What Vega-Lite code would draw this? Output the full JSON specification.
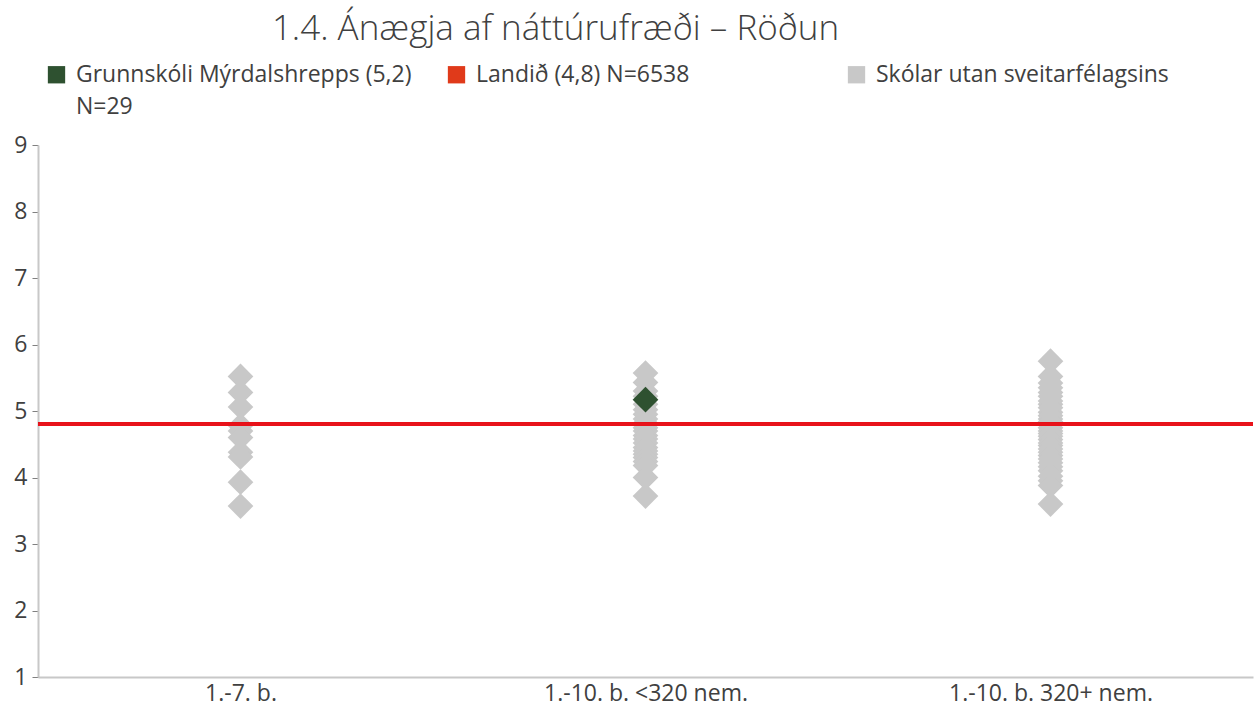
{
  "$schema": "https://vega.github.io/schema/vega-lite/v6.json",
  "width": 1215,
  "height": 532,
  "autosize": {"type": "none"},
  "padding": {"left": 38, "top": 145, "right": 5, "bottom": 32},
  "background": "white",
  "config": {
    "view": {"stroke": null},
    "font": "Open Sans",
    "axis": {"labelFont": "Open Sans", "labelFontSize": 23, "labelColor": "#404040", "grid": false, "domainColor": "#C8C8C8", "domainWidth": 2, "tickColor": "#808080", "labelLimit": 400},
    "legend": {"labelFont": "Open Sans", "labelFontSize": 23, "labelColor": "#404040"}
  },
  "title": {
    "text": "1.4. Ánægja af náttúrufræði – Röðun",
    "fontSize": 35,
    "font": "Open Sans",
    "fontWeight": 300,
    "color": "#404040",
    "anchor": "middle",
    "dx": -90,
    "offset": 16
  },
  "data": {
    "values": [
      {"hopur": "1.-7. b.", "gildi": 5.52, "rod": "Skólar utan sveitarfélagsins"},
      {"hopur": "1.-7. b.", "gildi": 5.28, "rod": "Skólar utan sveitarfélagsins"},
      {"hopur": "1.-7. b.", "gildi": 5.06, "rod": "Skólar utan sveitarfélagsins"},
      {"hopur": "1.-7. b.", "gildi": 4.78, "rod": "Skólar utan sveitarfélagsins"},
      {"hopur": "1.-7. b.", "gildi": 4.70, "rod": "Skólar utan sveitarfélagsins"},
      {"hopur": "1.-7. b.", "gildi": 4.60, "rod": "Skólar utan sveitarfélagsins"},
      {"hopur": "1.-7. b.", "gildi": 4.38, "rod": "Skólar utan sveitarfélagsins"},
      {"hopur": "1.-7. b.", "gildi": 4.31, "rod": "Skólar utan sveitarfélagsins"},
      {"hopur": "1.-7. b.", "gildi": 3.93, "rod": "Skólar utan sveitarfélagsins"},
      {"hopur": "1.-7. b.", "gildi": 3.57, "rod": "Skólar utan sveitarfélagsins"},
      {"hopur": "1.-10. b. <320 nem.", "gildi": 5.57, "rod": "Skólar utan sveitarfélagsins"},
      {"hopur": "1.-10. b. <320 nem.", "gildi": 5.43, "rod": "Skólar utan sveitarfélagsins"},
      {"hopur": "1.-10. b. <320 nem.", "gildi": 5.30, "rod": "Skólar utan sveitarfélagsins"},
      {"hopur": "1.-10. b. <320 nem.", "gildi": 5.22, "rod": "Skólar utan sveitarfélagsins"},
      {"hopur": "1.-10. b. <320 nem.", "gildi": 5.10, "rod": "Skólar utan sveitarfélagsins"},
      {"hopur": "1.-10. b. <320 nem.", "gildi": 5.02, "rod": "Skólar utan sveitarfélagsins"},
      {"hopur": "1.-10. b. <320 nem.", "gildi": 4.95, "rod": "Skólar utan sveitarfélagsins"},
      {"hopur": "1.-10. b. <320 nem.", "gildi": 4.88, "rod": "Skólar utan sveitarfélagsins"},
      {"hopur": "1.-10. b. <320 nem.", "gildi": 4.82, "rod": "Skólar utan sveitarfélagsins"},
      {"hopur": "1.-10. b. <320 nem.", "gildi": 4.75, "rod": "Skólar utan sveitarfélagsins"},
      {"hopur": "1.-10. b. <320 nem.", "gildi": 4.70, "rod": "Skólar utan sveitarfélagsins"},
      {"hopur": "1.-10. b. <320 nem.", "gildi": 4.63, "rod": "Skólar utan sveitarfélagsins"},
      {"hopur": "1.-10. b. <320 nem.", "gildi": 4.58, "rod": "Skólar utan sveitarfélagsins"},
      {"hopur": "1.-10. b. <320 nem.", "gildi": 4.52, "rod": "Skólar utan sveitarfélagsins"},
      {"hopur": "1.-10. b. <320 nem.", "gildi": 4.45, "rod": "Skólar utan sveitarfélagsins"},
      {"hopur": "1.-10. b. <320 nem.", "gildi": 4.40, "rod": "Skólar utan sveitarfélagsins"},
      {"hopur": "1.-10. b. <320 nem.", "gildi": 4.35, "rod": "Skólar utan sveitarfélagsins"},
      {"hopur": "1.-10. b. <320 nem.", "gildi": 4.30, "rod": "Skólar utan sveitarfélagsins"},
      {"hopur": "1.-10. b. <320 nem.", "gildi": 4.24, "rod": "Skólar utan sveitarfélagsins"},
      {"hopur": "1.-10. b. <320 nem.", "gildi": 4.18, "rod": "Skólar utan sveitarfélagsins"},
      {"hopur": "1.-10. b. <320 nem.", "gildi": 4.00, "rod": "Skólar utan sveitarfélagsins"},
      {"hopur": "1.-10. b. <320 nem.", "gildi": 3.72, "rod": "Skólar utan sveitarfélagsins"},
      {"hopur": "1.-10. b. 320+ nem.", "gildi": 5.75, "rod": "Skólar utan sveitarfélagsins"},
      {"hopur": "1.-10. b. 320+ nem.", "gildi": 5.52, "rod": "Skólar utan sveitarfélagsins"},
      {"hopur": "1.-10. b. 320+ nem.", "gildi": 5.42, "rod": "Skólar utan sveitarfélagsins"},
      {"hopur": "1.-10. b. 320+ nem.", "gildi": 5.35, "rod": "Skólar utan sveitarfélagsins"},
      {"hopur": "1.-10. b. 320+ nem.", "gildi": 5.28, "rod": "Skólar utan sveitarfélagsins"},
      {"hopur": "1.-10. b. 320+ nem.", "gildi": 5.22, "rod": "Skólar utan sveitarfélagsins"},
      {"hopur": "1.-10. b. 320+ nem.", "gildi": 5.15, "rod": "Skólar utan sveitarfélagsins"},
      {"hopur": "1.-10. b. 320+ nem.", "gildi": 5.10, "rod": "Skólar utan sveitarfélagsins"},
      {"hopur": "1.-10. b. 320+ nem.", "gildi": 5.05, "rod": "Skólar utan sveitarfélagsins"},
      {"hopur": "1.-10. b. 320+ nem.", "gildi": 4.98, "rod": "Skólar utan sveitarfélagsins"},
      {"hopur": "1.-10. b. 320+ nem.", "gildi": 4.93, "rod": "Skólar utan sveitarfélagsins"},
      {"hopur": "1.-10. b. 320+ nem.", "gildi": 4.88, "rod": "Skólar utan sveitarfélagsins"},
      {"hopur": "1.-10. b. 320+ nem.", "gildi": 4.84, "rod": "Skólar utan sveitarfélagsins"},
      {"hopur": "1.-10. b. 320+ nem.", "gildi": 4.80, "rod": "Skólar utan sveitarfélagsins"},
      {"hopur": "1.-10. b. 320+ nem.", "gildi": 4.75, "rod": "Skólar utan sveitarfélagsins"},
      {"hopur": "1.-10. b. 320+ nem.", "gildi": 4.70, "rod": "Skólar utan sveitarfélagsins"},
      {"hopur": "1.-10. b. 320+ nem.", "gildi": 4.66, "rod": "Skólar utan sveitarfélagsins"},
      {"hopur": "1.-10. b. 320+ nem.", "gildi": 4.62, "rod": "Skólar utan sveitarfélagsins"},
      {"hopur": "1.-10. b. 320+ nem.", "gildi": 4.57, "rod": "Skólar utan sveitarfélagsins"},
      {"hopur": "1.-10. b. 320+ nem.", "gildi": 4.52, "rod": "Skólar utan sveitarfélagsins"},
      {"hopur": "1.-10. b. 320+ nem.", "gildi": 4.48, "rod": "Skólar utan sveitarfélagsins"},
      {"hopur": "1.-10. b. 320+ nem.", "gildi": 4.43, "rod": "Skólar utan sveitarfélagsins"},
      {"hopur": "1.-10. b. 320+ nem.", "gildi": 4.38, "rod": "Skólar utan sveitarfélagsins"},
      {"hopur": "1.-10. b. 320+ nem.", "gildi": 4.33, "rod": "Skólar utan sveitarfélagsins"},
      {"hopur": "1.-10. b. 320+ nem.", "gildi": 4.28, "rod": "Skólar utan sveitarfélagsins"},
      {"hopur": "1.-10. b. 320+ nem.", "gildi": 4.22, "rod": "Skólar utan sveitarfélagsins"},
      {"hopur": "1.-10. b. 320+ nem.", "gildi": 4.16, "rod": "Skólar utan sveitarfélagsins"},
      {"hopur": "1.-10. b. 320+ nem.", "gildi": 4.10, "rod": "Skólar utan sveitarfélagsins"},
      {"hopur": "1.-10. b. 320+ nem.", "gildi": 4.02, "rod": "Skólar utan sveitarfélagsins"},
      {"hopur": "1.-10. b. 320+ nem.", "gildi": 3.95, "rod": "Skólar utan sveitarfélagsins"},
      {"hopur": "1.-10. b. 320+ nem.", "gildi": 3.88, "rod": "Skólar utan sveitarfélagsins"},
      {"hopur": "1.-10. b. 320+ nem.", "gildi": 3.60, "rod": "Skólar utan sveitarfélagsins"},
      {"hopur": "1.-10. b. <320 nem.", "gildi": 5.17, "rod": "Grunnskóli Mýrdalshrepps (5,2)"}
    ]
  },
  "layer": [
    {
      "mark": {"type": "point", "shape": "diamond", "filled": true, "size": 660, "opacity": 1},
      "encoding": {
        "x": {
          "field": "hopur", "type": "nominal", "sort": null,
          "scale": {"type": "point", "padding": 0.5, "domain": ["1.-7. b.", "1.-10. b. <320 nem.", "1.-10. b. 320+ nem."]},
          "axis": {"title": null, "labelAngle": 0, "ticks": false, "labelPadding": 5, "domain": true}
        },
        "y": {
          "field": "gildi", "type": "quantitative",
          "scale": {"domain": [1, 9], "nice": false, "zero": false},
          "axis": {"title": null, "values": [1, 2, 3, 4, 5, 6, 7, 8, 9], "format": "d", "tickSize": 6, "labelPadding": 5, "domain": true}
        },
        "color": {
          "field": "rod", "type": "nominal",
          "scale": {
            "domain": ["Grunnskóli Mýrdalshrepps (5,2)", "Landið (4,8) N=6538", "Skólar utan sveitarfélagsins", "N=29"],
            "range": ["#2E5130", "#E03A1A", "#C8C8C8", "rgba(0,0,0,0)"]
          },
          "legend": {
            "title": null,
            "orient": "none",
            "legendX": 7,
            "legendY": -82,
            "direction": "horizontal",
            "columns": 3,
            "gridAlign": "all",
            "columnPadding": 33,
            "rowPadding": 8,
            "symbolType": "square",
            "symbolSize": 300,
            "symbolStrokeWidth": 0,
            "symbolOffset": 0,
            "labelOffset": 8,
            "labelLimit": 400,
            "encode": {
              "labels": {
                "enter": {
                  "dx": {"signal": "datum.value === 'N=29' ? -30 : 0"}
                },
                "update": {
                  "dx": {"signal": "datum.value === 'N=29' ? -30 : 0"}
                }
              }
            }
          }
        }
      }
    },
    {
      "mark": {"type": "rule", "color": "#E8131B", "strokeWidth": 3},
      "encoding": {"y": {"datum": 4.8}}
    }
  ]
}
